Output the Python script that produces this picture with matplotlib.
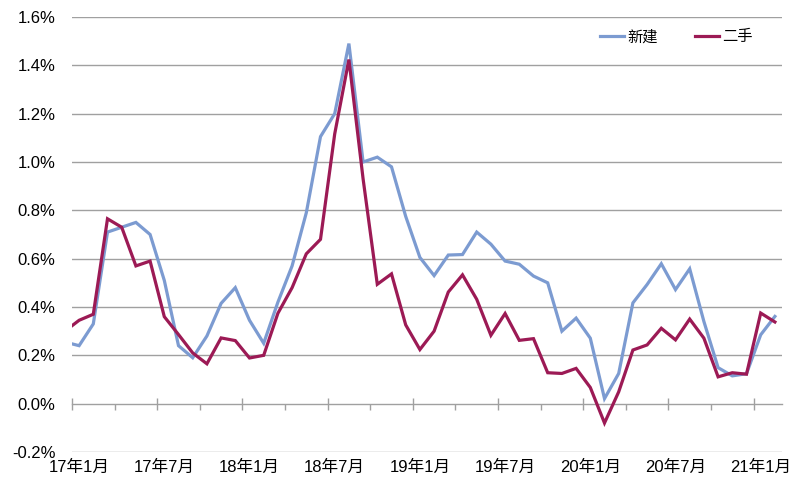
import numpy as np
import pandas as pd
import matplotlib
matplotlib.use("Agg")
import matplotlib.pyplot as plt
from matplotlib.ticker import FixedLocator, FuncFormatter

plt.rcParams['font.family'] = ['Liberation Sans', 'Noto Sans CJK SC']

# monthly, 16年12月 (only partly visible at the left edge) .. 21年2月
months = pd.period_range("2016-12", "2021-02", freq="M")
new_home = [0.255, 0.24, 0.33, 0.71, 0.73, 0.75, 0.70, 0.51, 0.24, 0.19, 0.28,
            0.415, 0.48, 0.345, 0.25, 0.42, 0.57, 0.79, 1.105, 1.20, 1.49,
            1.00, 1.02, 0.98, 0.775, 0.605, 0.53, 0.615, 0.617, 0.71, 0.66,
            0.59, 0.577, 0.528, 0.50, 0.30, 0.354, 0.271, 0.021, 0.125, 0.417,
            0.493, 0.579, 0.472, 0.558, 0.34, 0.149, 0.115, 0.124, 0.285, 0.361]
second_hand = [0.30, 0.345, 0.37, 0.765, 0.73, 0.57, 0.59, 0.36, 0.286, 0.21, 0.165,
               0.272, 0.261, 0.189, 0.20, 0.374, 0.48, 0.62, 0.68, 1.116, 1.424,
               0.93, 0.494, 0.537, 0.326, 0.224, 0.30, 0.462, 0.533, 0.432, 0.283,
               0.373, 0.262, 0.269, 0.128, 0.125, 0.146, 0.067, -0.08, 0.049, 0.222,
               0.243, 0.312, 0.264, 0.35, 0.271, 0.111, 0.128, 0.122, 0.375, 0.338]
y_ticks = [-0.2, 0.0, 0.2, 0.4, 0.6, 0.8, 1.0, 1.2, 1.4, 1.6]

BLUE = '#7c9bd1'
RED = '#9c1a55'
GRID = '#a0a0a0'

x = np.arange(len(months)) - 1   # 17年1月 -> 0

fig = plt.figure(figsize=(7.92, 4.82), dpi=100)
ax = fig.add_axes([72 / 792, 30 / 482, 710 / 792, 435 / 482])

ax.plot(x, new_home, color=BLUE, lw=2.3, label='新建', solid_joinstyle='miter')
ax.plot(x, second_hand, color=RED, lw=2.3, label='二手', solid_joinstyle='miter')

ax.set_xlim(-0.5, x[-1] + 0.5)
ax.set_ylim(-0.2, 1.6)

# y axis: gridlines + percent labels, no spine
ax.set_yticks(y_ticks)
ax.yaxis.set_major_formatter(FuncFormatter(lambda v, p: f'{v:.1f}%'))
ax.tick_params(axis='y', length=0, pad=12, labelsize=12)
for v in y_ticks:
    if v != 0:
        ax.axhline(v, color=GRID, lw=1.0, zorder=0)

for s in ['top', 'right', 'left']:
    ax.spines[s].set_visible(False)
ax.spines['bottom'].set_position(('data', 0))
ax.spines['bottom'].set_color(GRID)
ax.spines['bottom'].set_linewidth(1.0)
ax.spines['bottom'].set_zorder(0)

# tick marks between categories on the zero line
ax.xaxis.set_major_locator(FixedLocator(np.arange(-0.5, x[-1], 6)))
ax.xaxis.set_minor_locator(FixedLocator(np.arange(2.5, x[-1], 6)))
ax.tick_params(axis='x', which='major', direction='inout', length=8,
               color=GRID, width=1.0, labelbottom=False)
ax.tick_params(axis='x', which='minor', direction='out', length=4,
               color=GRID, width=1.0)

# category labels every 6 months, under the plot
for xi, p in zip(x, months):
    if p.month in (1, 7):
        ax.text(xi, -0.262, f'{p.year % 100}年{p.month}月', ha='center',
                va='center', fontsize=12)

ax.legend(loc='center', bbox_to_anchor=(0.851, 0.954), ncol=2, frameon=False,
          fontsize=11, handlelength=1.6, handletextpad=0.2, columnspacing=2.4)

plt.savefig("out.png", dpi=100)
